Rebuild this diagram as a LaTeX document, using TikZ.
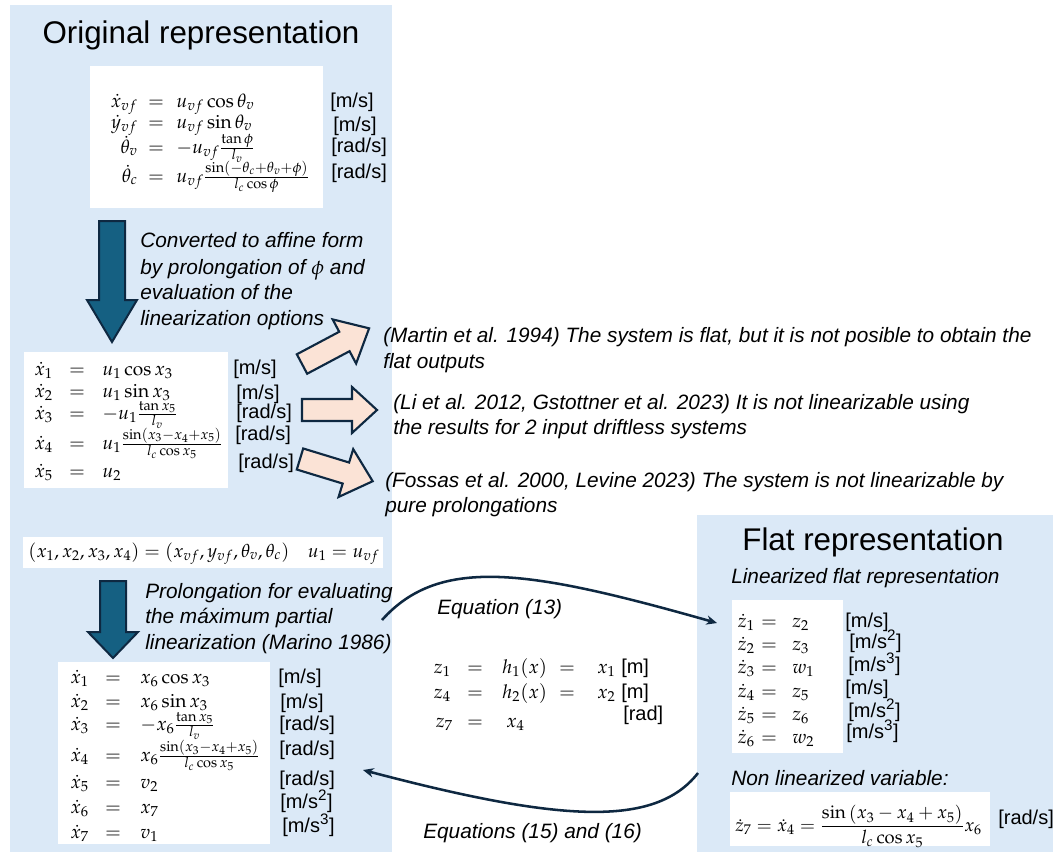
\documentclass[tikz,border=0pt]{standalone}
\usepackage{mathpazo}
\usepackage[no-math]{fontspec}
\newfontfamily\sansf{Liberation Sans}
\usetikzlibrary{arrows.meta}
\definecolor{panelblue}{RGB}{219,233,247}
\definecolor{pinkfill}{RGB}{251,227,214}
\definecolor{darkline}{RGB}{14,40,65}
\definecolor{arrowblue}{RGB}{21,96,130}
\tikzset{
  panel/.style={fill=panelblue, draw=none},
  wbox/.style={fill=white, draw=none},
  titletext/.style={font=\sansf\fontsize{23.5}{28}\selectfont, anchor=base, inner sep=0pt},
  note/.style={font=\sansf\itshape\fontsize{15.6}{19}\selectfont, anchor=base west, inner sep=0pt},
  unit/.style={font=\sansf\fontsize{15}{18}\selectfont, anchor=base west, inner sep=0pt},
  mathL/.style={font=\fontsize{14.3}{16}\selectfont, anchor=base east, inner sep=0pt},
  mathE/.style={font=\fontsize{14.3}{16}\selectfont, anchor=base, inner sep=0pt},
  mathR/.style={font=\fontsize{14.3}{16}\selectfont, anchor=base west, inner sep=0pt},
  downarrow/.style={fill=arrowblue, draw=darkline, line width=1.5pt, line join=miter},
  pinkarrow/.style={fill=pinkfill, draw=darkline, line width=1.6pt, line join=miter},
  curvearrow/.style={draw=darkline, line width=1.9pt, -{Stealth[length=8pt,width=7pt]}}
}
\begin{document}
\begin{tikzpicture}[x=0.75pt,y=-0.75pt]
\useasboundingbox (0,0) rectangle (1062,854);
% panels
\fill[panel] (10,5) rectangle (392,852);
\fill[panel] (697,515) rectangle (1053,852);
% titles
\node[titletext] (titleL) at (201,43) {Original representation};
\node[titletext] (titleR) at (873,550) {Flat representation};
% top equation box
\fill[wbox] (90,66) rectangle (323,208);
\foreach \l/\r/\y [count=\i] in {
  {\dot{x}_{vf}}/{u_{vf}\cos\theta_v}/107,
  {\dot{y}_{vf}}/{u_{vf}\sin\theta_v}/128,
  {\dot{\theta}_v}/{-u_{vf}\frac{\tan\phi}{l_v}}/153,
  {\dot{\theta}_c}/{u_{vf}\frac{\sin\left(-\theta_c+\theta_v+\phi\right)}{l_c\cos\phi}}/182}{
  \node[mathL] (ta\i) at (138,\y) {$\l$};
  \node[mathE] (te\i) at (156,\y) {$=$};
  \node[mathR] (tb\i) at (176,\y) {$\r$};
}
\foreach \t/\x/\y [count=\i] in {{[m/s]}/330/107,{[m/s]}/333/131,{[rad/s]}/331/152,{[rad/s]}/331/178}{
  \node[unit] (tu\i) at (\x,\y) {\t};
}
% first dark arrow
\draw[downarrow] (99,221) -- (125,221) -- (125,300) -- (137,300) -- (112,342) -- (87,300) -- (99,300) -- cycle;
\node[note] (c1) at (140,247) {Converted to affine form};
\node[note] (c2) at (140,274) {by prolongation of $\phi$ and};
\node[note] (c3) at (140,299) {evaluation of the};
\node[note] (c4) at (140,325) {linearization options};
% middle equation box
\fill[wbox] (24,352) rectangle (228,488);
\foreach \l/\r/\y [count=\i] in {
  {\dot{x}_1}/{u_1\cos x_3}/375,
  {\dot{x}_2}/{u_1\sin x_3}/397,
  {\dot{x}_3}/{-u_1\frac{\tan x_5}{l_v}}/419,
  {\dot{x}_4}/{u_1\frac{\sin\left(x_3-x_4+x_5\right)}{l_c\cos x_5}}/449,
  {\dot{x}_5}/{u_2}/477}{
  \node[mathL] (ma\i) at (53,\y) {$\l$};
  \node[mathE] (me\i) at (77,\y) {$=$};
  \node[mathR] (mb\i) at (102,\y) {$\r$};
}
\foreach \t/\x/\y [count=\i] in {{[m/s]}/233/374,{[m/s]}/236/399,{[rad/s]}/236/418,{[rad/s]}/235/440,{[rad/s]}/238/468}{
  \node[unit] (mu\i) at (\x,\y) {\t};
}
% pink arrows
\begin{scope}[shift={(302,364)},rotate=28]
  \draw[pinkarrow] (0,-11) -- (48,-11) -- (48,-25) -- (76,0) -- (48,25) -- (48,11) -- (0,11) -- cycle;
\end{scope}
\begin{scope}[shift={(302,410)}]
  \draw[pinkarrow] (0,-11) -- (50,-11) -- (50,-23) -- (75,0) -- (50,23) -- (50,11) -- (0,11) -- cycle;
\end{scope}
\begin{scope}[shift={(300,459)},rotate=-17]
  \draw[pinkarrow] (0,-11) -- (48,-11) -- (48,-25) -- (76,0) -- (48,25) -- (48,11) -- (0,11) -- cycle;
\end{scope}
\node[note] (p1a) at (383,342) {(Martin et al. 1994) The system is flat, but it is not posible to obtain the};
\node[note] (p1b) at (383,368) {flat outputs};
\node[note] (p2a) at (393,409) {(Li et al. 2012, Gstottner et al. 2023) It is not linearizable using};
\node[note] (p2b) at (393,434) {the results for 2 input driftless systems};
\node[note] (p3a) at (385,487) {(Fossas et al. 2000, Levine 2023) The system is not linearizable by};
\node[note] (p3b) at (385,512) {pure prolongations};
% state bar
\fill[wbox] (23,537) rectangle (383,568);
\node[mathE, font=\fontsize{14}{16}\selectfont] (bar) at (204,557) {$(x_1,x_2,x_3,x_4)=(x_{vf},y_{vf},\theta_v,\theta_c)\quad u_1=u_{vf}$};
% second dark arrow
\draw[downarrow] (100,581) -- (126,581) -- (126,632) -- (138,632) -- (113,658) -- (88,632) -- (100,632) -- cycle;
\node[note] (r1) at (145,598) {Prolongation for evaluating};
\node[note] (r2) at (145,623) {the máximum partial};
\node[note] (r3) at (145,649) {linearization (Marino 1986)};
% bottom equation box
\fill[wbox] (58,662) rectangle (270,844);
\foreach \l/\r/\y [count=\i] in {
  {\dot{x}_1}/{x_6\cos x_3}/683,
  {\dot{x}_2}/{x_6\sin x_3}/707,
  {\dot{x}_3}/{-x_6\frac{\tan x_5}{l_v}}/730,
  {\dot{x}_4}/{x_6\frac{\sin\left(x_3-x_4+x_5\right)}{l_c\cos x_5}}/761,
  {\dot{x}_5}/{v_2}/788,
  {\dot{x}_6}/{x_7}/813,
  {\dot{x}_7}/{v_1}/838}{
  \node[mathL] (ba\i) at (89,\y) {$\l$};
  \node[mathE] (be\i) at (113,\y) {$=$};
  \node[mathR] (bb\i) at (140,\y) {$\r$};
}
\foreach \t/\x/\y [count=\i] in {{[m/s]}/278/683,{[m/s]}/280/708,{[rad/s]}/279/730,{[rad/s]}/279/755,{[rad/s]}/279/785,{[m/s\textsuperscript{2}]}/280/808,{[m/s\textsuperscript{3}]}/282/832}{
  \node[unit] (bu\i) at (\x,\y) {\t};
}
% middle flat outputs
\node[mathL] (h1a) at (451,673) {$z_1$};
\node[mathE] (h1e) at (475,673) {$=$};
\node[mathR] (h1b) at (502,673) {$h_1(x)$};
\node[mathE] (h1f) at (567,673) {$=$};
\node[mathR] (h1c) at (597,673) {$x_1$};
\node[unit] (h1u) at (621,673) {[m]};
\node[mathL] (h2a) at (451,698) {$z_4$};
\node[mathE] (h2e) at (475,698) {$=$};
\node[mathR] (h2b) at (502,698) {$h_2(x)$};
\node[mathE] (h2f) at (567,698) {$=$};
\node[mathR] (h2c) at (597,698) {$x_2$};
\node[unit] (h2u) at (621,698) {[m]};
\node[unit] (h3u) at (623,720) {[rad]};
\node[mathL] (h3a) at (453,727) {$z_7$};
\node[mathE] (h3e) at (475,727) {$=$};
\node[mathR] (h3b) at (506,727) {$x_4$};
\node[note] (eq13) at (437,614) {Equation (13)};
\node[note] (eq1516) at (423,838) {Equations (15) and (16)};
% right panel
\node[note] (lin) at (731,583) {Linearized flat representation};
\fill[wbox] (732,600) rectangle (843,753);
\foreach \l/\r/\y [count=\i] in {
  {\dot{z}_1}/{z_2}/627,
  {\dot{z}_2}/{z_3}/650,
  {\dot{z}_3}/{w_1}/673,
  {\dot{z}_4}/{z_5}/697,
  {\dot{z}_5}/{z_6}/720,
  {\dot{z}_6}/{w_2}/743}{
  \node[mathL] (za\i) at (755,\y) {$\l$};
  \node[mathE] (ze\i) at (769,\y) {$=$};
  \node[mathR] (zb\i) at (792,\y) {$\r$};
}
\foreach \t/\x/\y [count=\i] in {{[m/s]}/845/627,{[m/s\textsuperscript{2}]}/849/648,{[m/s\textsuperscript{3}]}/848/671,{[m/s]}/845/694,{[m/s\textsuperscript{2}]}/848/717,{[m/s\textsuperscript{3}]}/846/738}{
  \node[unit] (zu\i) at (\x,\y) {\t};
}
\node[note] (nonlin) at (731,785) {Non linearized variable:};
\fill[wbox] (730,792) rectangle (990,846);
\node[font=\fontsize{13.8}{16}\selectfont, anchor=west, inner sep=0pt] (z7eq) at (735,826) {$\dot{z}_7=\dot{x}_4=\displaystyle\frac{\sin\left(x_3-x_4+x_5\right)}{l_c\cos x_5}x_6$};
\node[unit] (z7u) at (998,824) {[rad/s]};
% curved connectors
\coordinate (ca) at (382,620);
\coordinate (cb) at (717,623);
\coordinate (cc) at (698,773);
\coordinate (cd) at (363,770);
\draw[curvearrow] (ca) .. controls (440,555) and (530,570) .. (cb);
\draw[curvearrow] (cc) .. controls (655,828) and (560,822) .. (cd);
\end{tikzpicture}
\end{document}
